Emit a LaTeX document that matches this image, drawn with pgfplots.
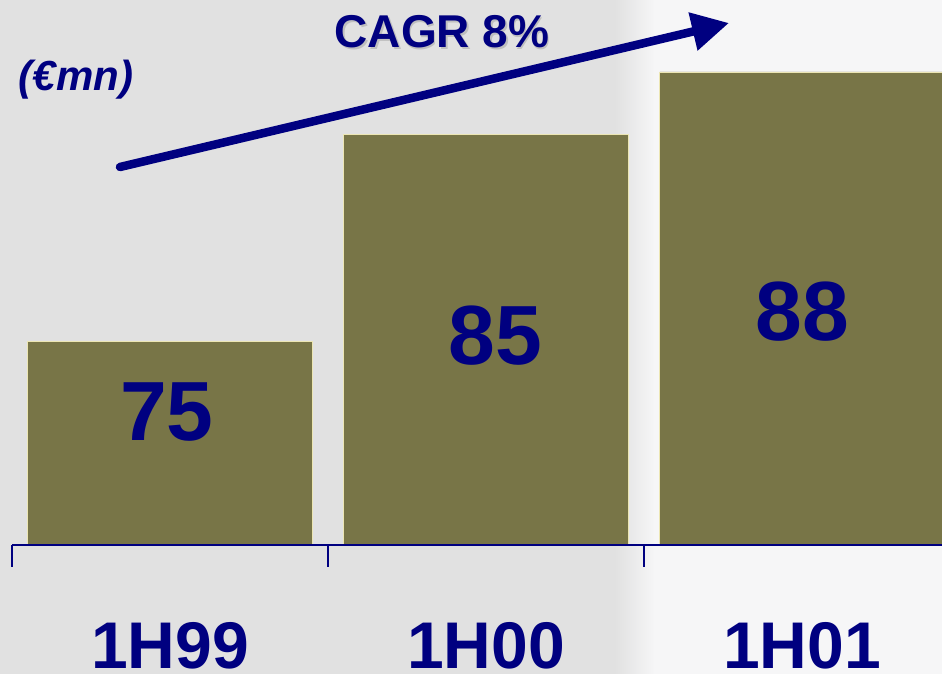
\documentclass[border=0pt]{standalone}
\usepackage{fontspec}
\setmainfont{Liberation Sans}
\usepackage{pgfplots}
\pgfplotsset{compat=1.18}
\usetikzlibrary{arrows.meta}
\definecolor{navy}{RGB}{0,0,128}
\definecolor{olive}{RGB}{120,117,71}
\definecolor{cream}{RGB}{236,230,180}
\definecolor{bggray}{RGB}{225,225,225}
\definecolor{bglight}{RGB}{246,246,247}
\begin{document}
\begin{tikzpicture}
\useasboundingbox (0,0) rectangle (942pt,674pt);
\clip (0,0) rectangle (942pt,674pt);
\fill[bggray] (0,0) rectangle (942pt,674pt);
\shade[left color=bggray, right color=bglight] (615pt,0) rectangle (655pt,674pt);
\fill[bglight] (654pt,0) rectangle (942pt,674pt);
\begin{axis}[
  at={(12pt,129pt)}, anchor=south west,
  scale only axis, width=930pt, height=517.5pt,
  xmin=-0.5, xmax=2.443, ymin=65.15, ymax=90.15,
  ybar, bar width=0.9,
  axis on top,
  axis x line=bottom, axis y line=none,
  axis line style={-, draw=navy, line width=1.8pt},
  xtick={0,1,2}, xticklabels={1H99,1H00,1H01},
  major tick length=0pt,
  extra x ticks={-0.5,0.5,1.5}, extra x tick labels={},
  extra x tick style={major tick length=22pt, tick align=outside, tick style={draw=navy, line width=1.5pt}},
  xticklabel style={font=\fontsize{66}{66}\selectfont\bfseries, text=navy, anchor=base, yshift=-123pt},
]
\addplot[fill=olive, draw=cream, line width=0.8pt] coordinates {(0,75) (1,85) (2,88)};
\node[text=navy, font=\fontsize{84}{84}\selectfont\bfseries] at (axis cs:-0.01,71.58) {75};
\node[text=navy, font=\fontsize{84}{84}\selectfont\bfseries] at (axis cs:1.03,75.25) {85};
\node[text=navy, font=\fontsize{84}{84}\selectfont\bfseries] at (axis cs:2.0,76.45) {88};
\end{axis}
\draw[navy, line width=8.5pt, line cap=round, -{Triangle[length=37pt,width=37pt]}] (120pt,507pt) -- (729pt,651pt);
\node[text=black!25, font=\fontsize{46}{46}\selectfont\bfseries] at (443.5pt,640.5pt) {CAGR 8\%};
\node[text=navy, font=\fontsize{46}{46}\selectfont\bfseries] at (442pt,642pt) {CAGR 8\%};
\node[text=navy, font=\fontsize{42}{42}\selectfont\bfseries\itshape] at (76pt,594pt) {(€mn)};
\end{tikzpicture}
\end{document}
